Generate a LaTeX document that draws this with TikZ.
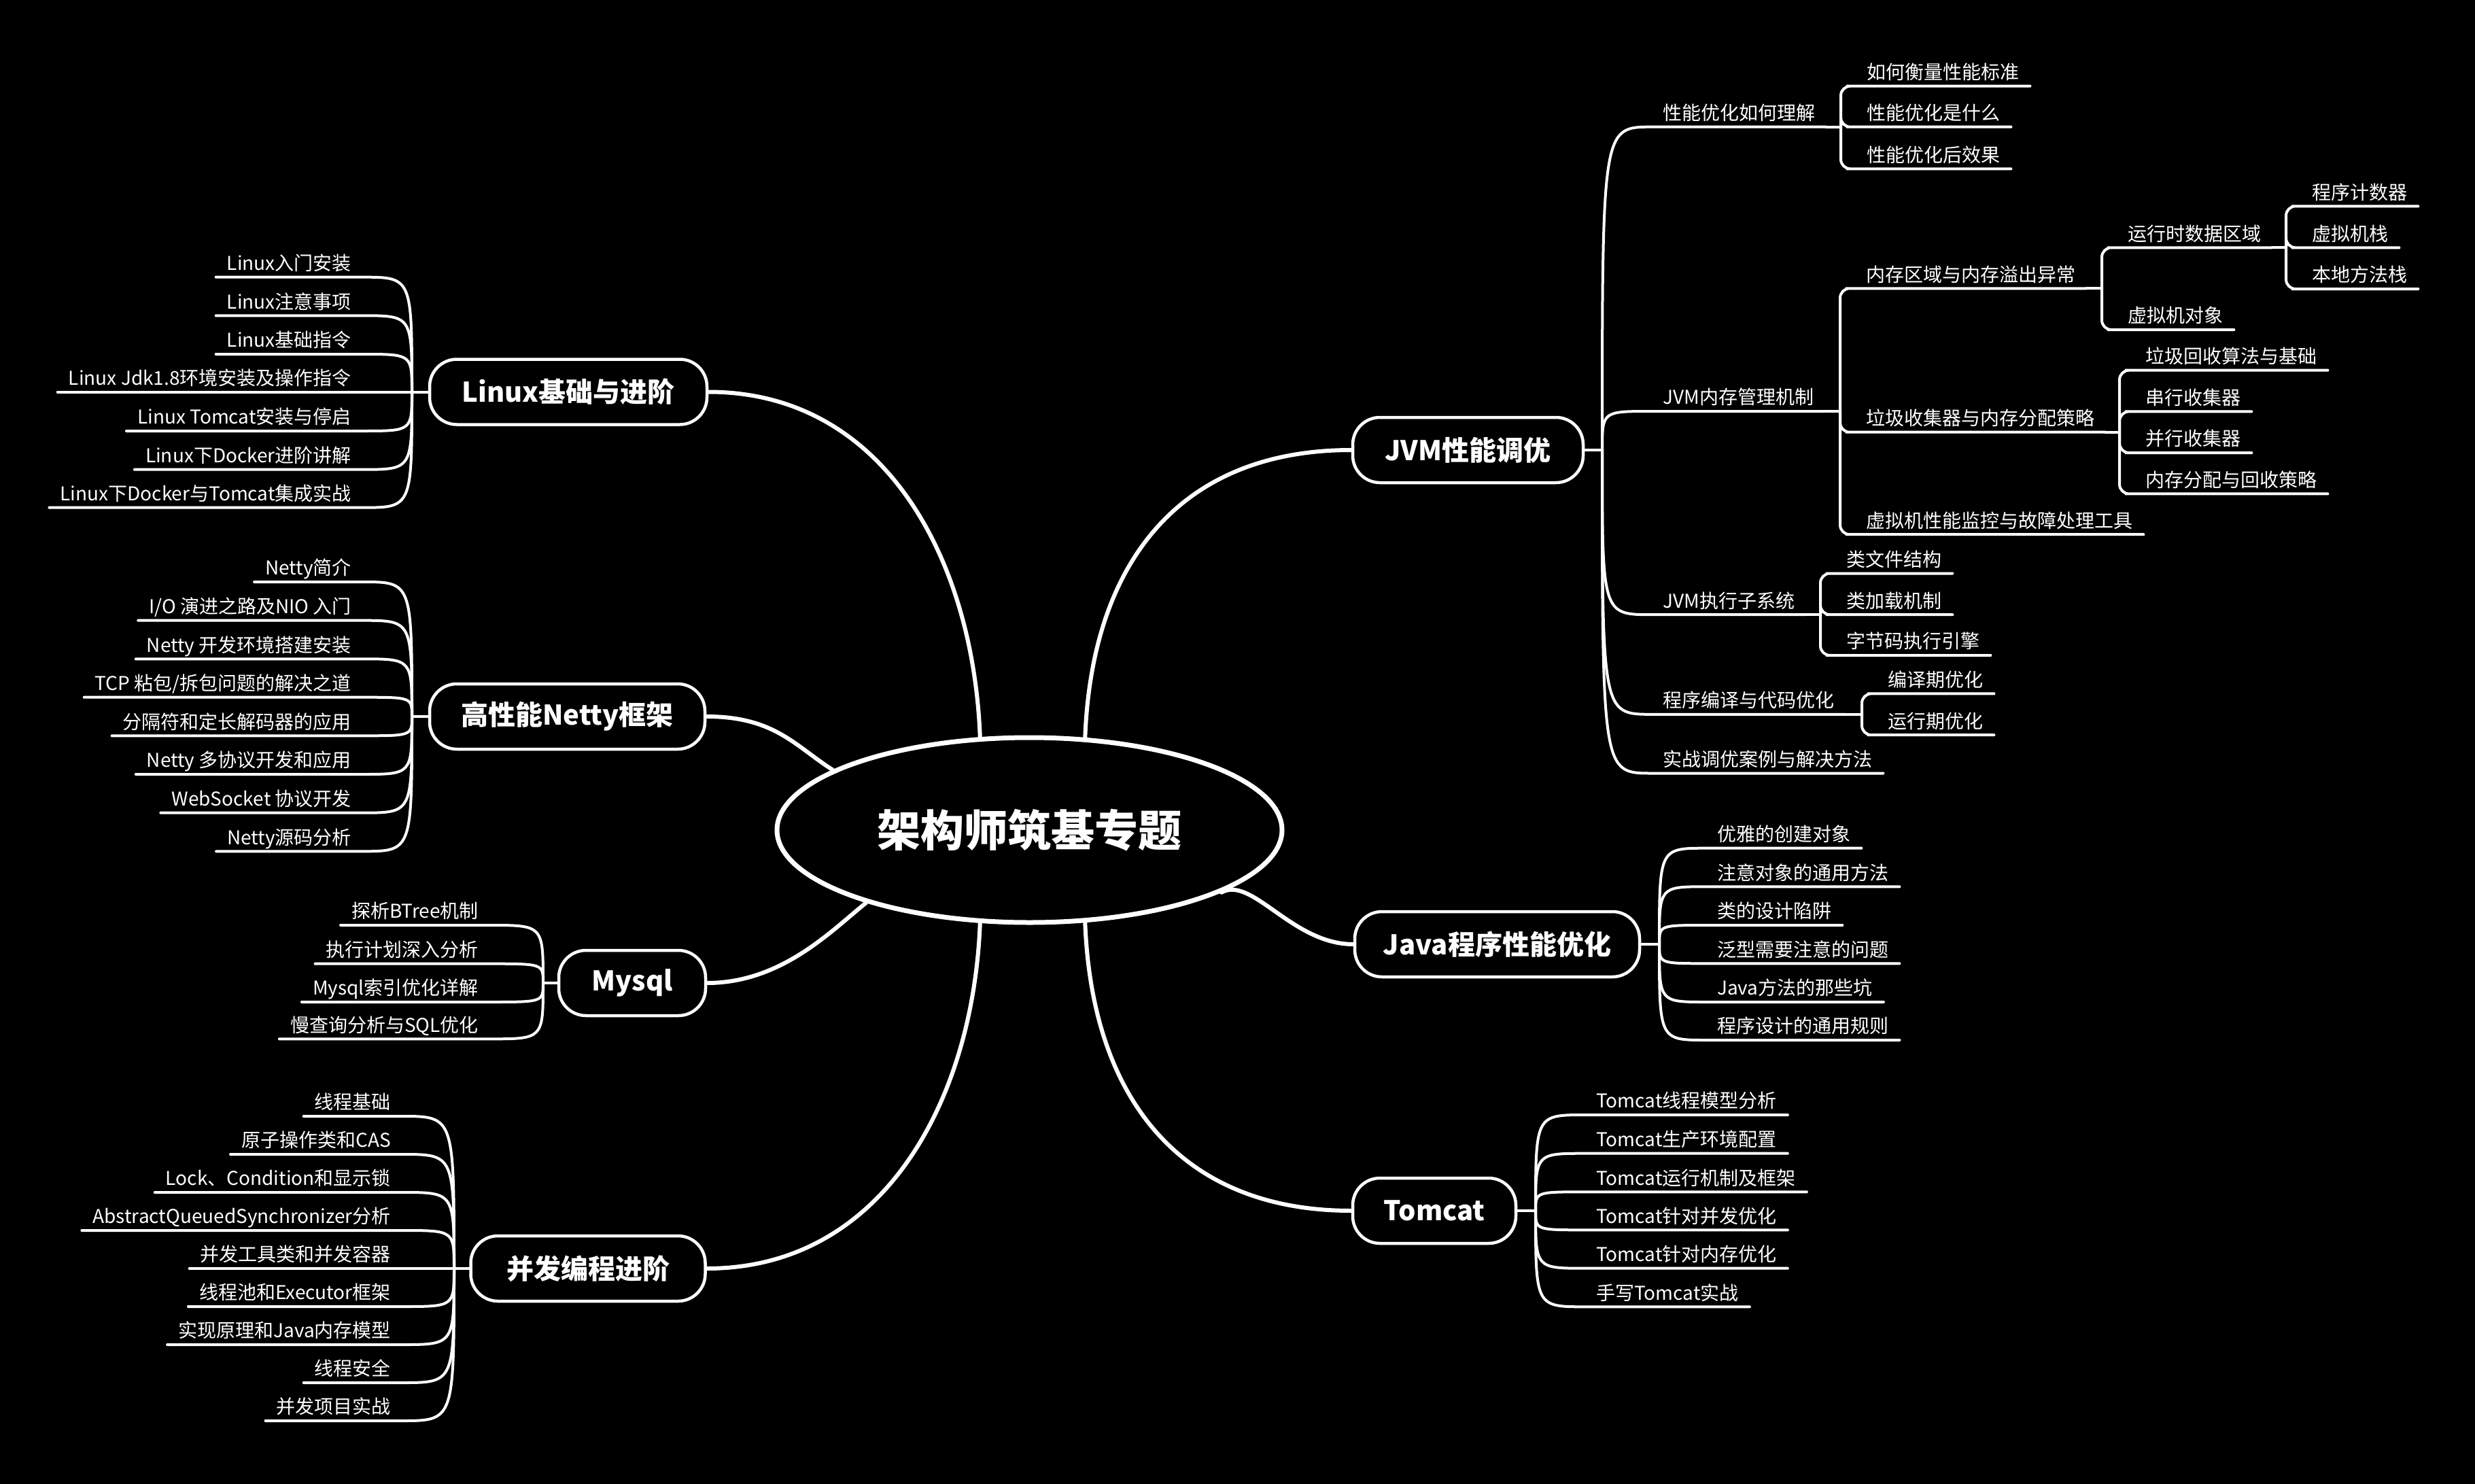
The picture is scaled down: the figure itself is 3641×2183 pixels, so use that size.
\documentclass[tikz,border=0pt]{standalone}
\usepackage{fontspec}
\setmainfont{Noto Sans CJK SC}
\usetikzlibrary{shapes.geometric}
\begin{document}
\begin{tikzpicture}[x=1pt,y=-1pt,
    line cap=round,
    root/.style={ellipse, draw=white, line width=7, minimum width=743,
      minimum height=272, inner sep=0, text=white,
      font=\fontsize{64}{70}\selectfont\bfseries},
    topic/.style={rectangle, rounded corners=40, draw=white, line width=4.5,
      minimum width=#1, minimum height=96, text=white,
      font=\fontsize{40}{46}\selectfont\bfseries},
    leaf/.style={inner xsep=16, inner ysep=3, text height=21, text depth=7,
      text=white, font=\fontsize{28}{32}\selectfont},
    leafl/.style={leaf, anchor=south east},
    leafr/.style={leaf, anchor=south west},
    trunk/.style={draw=white, line width=6},
    linet/.style={draw=white, line width=4},
    bracket/.style={linet, rounded corners=14}
  ]
  \path[use as bounding box, fill=black] (0,0) rectangle (3641,2183);

  % centre and main topics
  \node[root] (root) at (1514.5,1221) {架构师筑基专题};
  \node[topic=408] (linux) at (836,576.5) {Linux基础与进阶};
  \node[topic=405] (netty) at (834.5,1054) {高性能Netty框架};
  \node[topic=216] (mysql) at (930,1446) {Mysql};
  \node[topic=345] (bingfa) at (865,1866) {并发编程进阶};
  \node[topic=339] (jvm) at (2159.5,662) {JVM性能调优};
  \node[topic=419] (javaopt) at (2202.5,1389) {Java程序性能优化};
  \node[topic=240] (tomcat) at (2110,1781) {Tomcat};

  \draw[trunk] (linux.east) .. controls +(260,0) and +(-10,-260) .. (root.118);
  \draw[trunk] (netty.east) .. controls +(100,0) and +(-55,-35) .. (root.163);
  \draw[trunk] (mysql.east) .. controls +(110,0) and +(-50,40) .. (root.204);
  \draw[trunk] (bingfa.east) .. controls +(260,0) and +(-10,260) .. (root.242);
  \draw[trunk] (jvm.west) .. controls +(-250,0) and +(10,-260) .. (root.59);
  \draw[trunk] (javaopt.west) .. controls +(-90,0) and +(45,-25) .. (root.342);
  \draw[trunk] (tomcat.west) .. controls +(-250,0) and +(10,260) .. (root.301);

  % Linux
  \coordinate (linuxj) at (606,576.5);
  \draw[linet] (linux.west) -- (linuxj);
  \foreach \t/\y [count=\i] in {{Linux入门安装}/407.7, {Linux注意事项}/464.3,
      {Linux基础指令}/521, {Linux Jdk1.8环境安装及操作指令}/576.5,
      {Linux Tomcat安装与停启}/634, {Linux下Docker进阶讲解}/690.7,
      {Linux下Docker与Tomcat集成实战}/746.7}{
    \node[leafl] (linux\i) at (533,\y) {\t};
    \draw[linet] (linux\i.south west) -- (linux\i.south east)
      .. controls (606,\y) .. (linuxj);
  }

  % Netty
  \coordinate (nettyj) at (606,1054);
  \draw[linet] (netty.west) -- (nettyj);
  \foreach \t/\y [count=\i] in {{Netty简介}/856, {I/O 演进之路及NIO 入门}/912.7,
      {Netty 开发环境搭建安装}/969.3, {TCP 粘包/拆包问题的解决之道}/1025.7,
      {分隔符和定长解码器的应用}/1082.3, {Netty 多协议开发和应用}/1139,
      {WebSocket 协议开发}/1195.7, {Netty源码分析}/1252.3}{
    \node[leafl] (netty\i) at (533,\y) {\t};
    \draw[linet] (netty\i.south west) -- (netty\i.south east)
      .. controls (606,\y) .. (nettyj);
  }

  % Mysql
  \coordinate (mysqlj) at (799,1446);
  \draw[linet] (mysql.west) -- (mysqlj);
  \foreach \t/\y [count=\i] in {{探析BTree机制}/1361, {执行计划深入分析}/1417.7,
      {Mysql索引优化详解}/1474, {慢查询分析与SQL优化}/1528.3}{
    \node[leafl] (mysql\i) at (720,\y) {\t};
    \draw[linet] (mysql\i.south west) -- (mysql\i.south east)
      .. controls (799,\y) .. (mysqlj);
  }

  % concurrency
  \coordinate (bingfaj) at (668,1866);
  \draw[linet] (bingfa.west) -- (bingfaj);
  \foreach \t/\y [count=\i] in {{线程基础}/1642, {原子操作类和CAS}/1698,
      {Lock、Condition和显示锁}/1754, {AbstractQueuedSynchronizer分析}/1810,
      {并发工具类和并发容器}/1866, {线程池和Executor框架}/1922,
      {实现原理和Java内存模型}/1978, {线程安全}/2034, {并发项目实战}/2090}{
    \node[leafl] (bingfa\i) at (591,\y) {\t};
    \draw[linet] (bingfa\i.south west) -- (bingfa\i.south east)
      .. controls (668,\y) .. (bingfaj);
  }

  % Java
  \coordinate (javaoptj) at (2441,1389);
  \draw[linet] (javaopt.east) -- (javaoptj);
  \foreach \t/\y [count=\i] in {{优雅的创建对象}/1247.7, {注意对象的通用方法}/1304.3,
      {类的设计陷阱}/1361, {泛型需要注意的问题}/1417.3,
      {Java方法的那些坑}/1474, {程序设计的通用规则}/1530}{
    \node[leafr] (javaopt\i) at (2510,\y) {\t};
    \draw[linet] (javaoptj) .. controls (2441,\y) .. (javaopt\i.south west)
      -- (javaopt\i.south east);
  }

  % Tomcat
  \coordinate (tomcatj) at (2259,1781);
  \draw[linet] (tomcat.east) -- (tomcatj);
  \foreach \t/\y [count=\i] in {{Tomcat线程模型分析}/1640, {Tomcat生产环境配置}/1696.7,
      {Tomcat运行机制及框架}/1753.3, {Tomcat针对并发优化}/1809.3,
      {Tomcat针对内存优化}/1865.7, {手写Tomcat实战}/1922.3}{
    \node[leafr] (tomcat\i) at (2332,\y) {\t};
    \draw[linet] (tomcatj) .. controls (2259,\y) .. (tomcat\i.south west)
      -- (tomcat\i.south east);
  }

  % JVM
  \coordinate (jvmj) at (2357,662);
  \draw[linet] (jvm.east) -- (jvmj);
  \foreach \t/\y [count=\i] in {{性能优化如何理解}/186.7, {JVM内存管理机制}/605,
      {JVM执行子系统}/904.2, {程序编译与代码优化}/1050.8,
      {实战调优案例与解决方法}/1137.5}{
    \node[leafr] (jvm\i) at (2430,\y) {\t};
    \draw[linet] (jvmj) .. controls (2357,\y) .. (jvm\i.south west)
      -- (jvm\i.south east);
  }

  \coordinate (perfb) at (2708,186.7);
  \draw[linet] (jvm1.south east) -- (perfb);
  \foreach \t/\y [count=\i] in {{如何衡量性能标准}/126.7, {性能优化是什么}/186.7,
      {性能优化后效果}/248.3}{
    \node[leafr] (perf\i) at (2730,\y) {\t};
    \draw[bracket] (perfb) |- (perf\i.south west) -- (perf\i.south east);
  }

  \coordinate (memb) at (2707,605);
  \draw[linet] (jvm2.south east) -- (memb);
  \foreach \t/\y [count=\i] in {{内存区域与内存溢出异常}/424.3,
      {垃圾收集器与内存分配策略}/635.7, {虚拟机性能监控与故障处理工具}/786.2}{
    \node[leafr] (mem\i) at (2729,\y) {\t};
    \draw[bracket] (memb) |- (mem\i.south west) -- (mem\i.south east);
  }

  \coordinate (areab) at (3092,424.3);
  \draw[linet] (mem1.south east) -- (areab);
  \foreach \t/\y [count=\i] in {{运行时数据区域}/364.3, {虚拟机对象}/485}{
    \node[leafr] (area\i) at (3114,\y) {\t};
    \draw[bracket] (areab) |- (area\i.south west) -- (area\i.south east);
  }

  \coordinate (runb) at (3363,364.3);
  \draw[linet] (area1.south east) -- (runb);
  \foreach \t/\y [count=\i] in {{程序计数器}/303.3, {虚拟机栈}/364.3,
      {本地方法栈}/425}{
    \node[leafr] (run\i) at (3385,\y) {\t};
    \draw[bracket] (runb) |- (run\i.south west) -- (run\i.south east);
  }

  \coordinate (gcb) at (3118,635.7);
  \draw[linet] (mem2.south east) -- (gcb);
  \foreach \t/\y [count=\i] in {{垃圾回收算法与基础}/544.7, {串行收集器}/605.4,
      {并行收集器}/666.1, {内存分配与回收策略}/726.4}{
    \node[leafr] (gc\i) at (3140,\y) {\t};
    \draw[bracket] (gcb) |- (gc\i.south west) -- (gc\i.south east);
  }

  \coordinate (execb) at (2678,904.2);
  \draw[linet] (jvm3.south east) -- (execb);
  \foreach \t/\y [count=\i] in {{类文件结构}/843.5, {类加载机制}/904.2,
      {字节码执行引擎}/964}{
    \node[leafr] (exec\i) at (2700,\y) {\t};
    \draw[bracket] (execb) |- (exec\i.south west) -- (exec\i.south east);
  }

  \coordinate (compb) at (2739,1050.8);
  \draw[linet] (jvm4.south east) -- (compb);
  \foreach \t/\y [count=\i] in {{编译期优化}/1020.4, {运行期优化}/1081.2}{
    \node[leafr] (comp\i) at (2761,\y) {\t};
    \draw[bracket] (compb) |- (comp\i.south west) -- (comp\i.south east);
  }
\end{tikzpicture}
\end{document}
